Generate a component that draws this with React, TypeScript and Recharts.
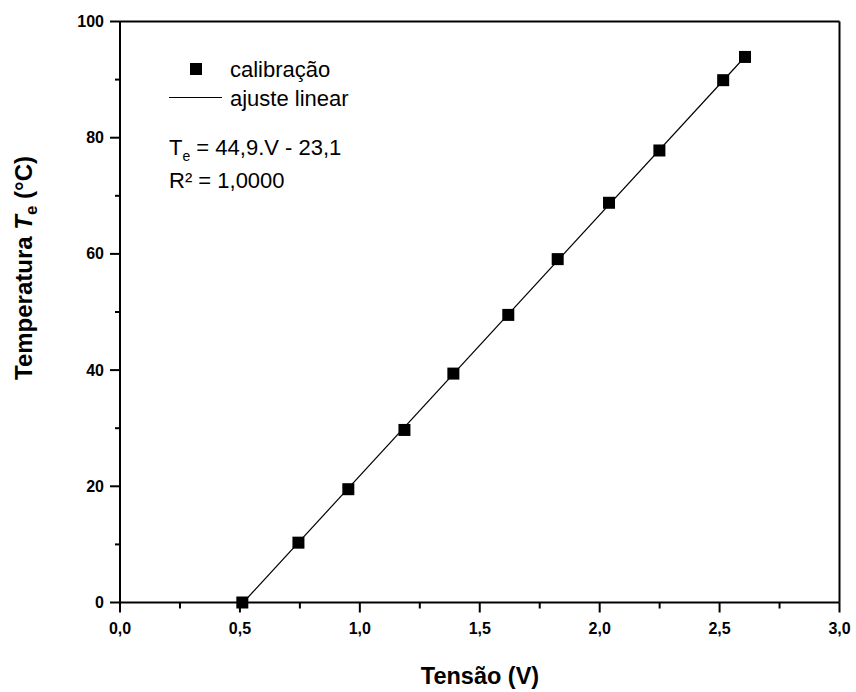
import {
  ScatterChart,
  Scatter,
  XAxis,
  YAxis,
  ReferenceLine,
  Legend,
} from 'recharts'

// calibration points
const voltage = [0.51, 0.744, 0.952, 1.186, 1.39, 1.619, 1.825, 2.039, 2.249, 2.515, 2.606]
const temperature = [0, 10.3, 19.5, 29.7, 39.4, 49.5, 59.1, 68.8, 77.8, 89.9, 93.9]

// end points of the linear fit line
const fitVoltage = [0.514, 2.61]
const fitTemperature = [0, 94.1]

const xTicks = [0, 0.25, 0.5, 0.75, 1, 1.25, 1.5, 1.75, 2, 2.25, 2.5, 2.75, 3]
const yTicks = [0, 10, 20, 30, 40, 50, 60, 70, 80, 90, 100]

const FONT = '"Liberation Sans", Arial, sans-serif'

const calData = voltage.map((v, i) => ({ v, t: temperature[i] }))
const fitData = fitVoltage.map((v, i) => ({ v, t: fitTemperature[i] }))

const XTick = (props: any) => {
  const { x, y, payload } = props
  const val = payload.value as number
  const major = Math.abs(val * 2 - Math.round(val * 2)) < 1e-6
  return (
    <g>
      <line x1={x} x2={x} y1={y} y2={y + (major ? 10 : 6)} stroke="#000" strokeWidth={2} />
      {major && (
        <text x={x} y={y + 31.5} textAnchor="middle" fontFamily={FONT} fontWeight="bold" fontSize={16} fill="#000">
          {val.toFixed(1).replace('.', ',')}
        </text>
      )}
    </g>
  )
}

const YTick = (props: any) => {
  const { x, y, payload } = props
  const val = payload.value as number
  const major = val % 20 === 0
  return (
    <g>
      <line x1={x - (major ? 10 : 5)} x2={x} y1={y} y2={y} stroke="#000" strokeWidth={2} />
      {major && (
        <text x={x - 16} y={y + 5.5} textAnchor="end" fontFamily={FONT} fontWeight="bold" fontSize={16} fill="#000">
          {val}
        </text>
      )}
    </g>
  )
}

const Square = (props: any) => {
  const { cx, cy } = props
  return <rect x={cx - 6} y={cy - 6} width={12} height={12} fill="#000" />
}

const LegendBox = () => (
  <svg width={856} height={200} style={{ display: 'block' }}>
    <rect x={190} y={63} width={12} height={12} fill="#000" />
    <text x={230} y={77} fontFamily={FONT} fontSize={22} fill="#000">calibração</text>
    <line x1={169} x2={222} y1={97.5} y2={97.5} stroke="#000" strokeWidth={1.2} />
    <text x={230} y={106} fontFamily={FONT} fontSize={22} fill="#000">ajuste linear</text>
    <text x={169} y={155} fontFamily={FONT} fontSize={22} fill="#000">
      T<tspan fontSize={14} dy={6}>e</tspan>
      <tspan dy={-6}> = 44,9.V - 23,1</tspan>
    </text>
    <text x={169} y={188} fontFamily={FONT} fontSize={22} fill="#000">R² = 1,0000</text>
  </svg>
)

const XTitle = () => (
  <text x={480} y={684} textAnchor="middle" fontFamily={FONT} fontWeight="bold" fontSize={23.5} fill="#000">
    Tensão (V)
  </text>
)

const YTitle = () => (
  <text
    x={32}
    y={268}
    transform="rotate(-90, 32, 268)"
    textAnchor="middle"
    fontFamily={FONT}
    fontWeight="bold"
    fontSize={24}
    fill="#000"
  >
    Temperatura <tspan fontStyle="italic">T</tspan>
    <tspan fontSize={17} dy={5}>e</tspan>
    <tspan dy={-5}> (°C)</tspan>
  </text>
)

export default function App() {
  return (
    <div style={{ width: 856, height: 692, background: '#fff' }}>
      <style>{'body{margin:0}'}</style>
      <ScatterChart
        width={856}
        height={692}
        margin={{ top: 21.5, right: 16.5, left: 60, bottom: 59.5 }}
      >
        <XAxis
          type="number"
          dataKey="v"
          domain={[0, 3]}
          ticks={xTicks}
          interval={0}
          height={30}
          tickSize={0}
          tickMargin={0}
          tick={<XTick />}
          axisLine={{ stroke: '#000', strokeWidth: 2 }}
          label={<XTitle />}
        />
        <YAxis
          type="number"
          dataKey="t"
          domain={[0, 100]}
          ticks={yTicks}
          interval={0}
          width={60}
          tickSize={0}
          tickMargin={0}
          tick={<YTick />}
          axisLine={{ stroke: '#000', strokeWidth: 2 }}
          label={<YTitle />}
        />
        <ReferenceLine x={3} stroke="#000" strokeWidth={2} />
        <ReferenceLine y={100} stroke="#000" strokeWidth={2} />
        <Scatter
          name="ajuste linear"
          data={fitData}
          line={{ stroke: '#000', strokeWidth: 1.2 }}
          shape={() => <g />}
          isAnimationActive={false}
        />
        <Scatter
          name="calibração"
          data={calData}
          fill="#000"
          shape={<Square />}
          isAnimationActive={false}
        />
        <Legend
          layout="horizontal"
          verticalAlign="middle"
          align="center"
          wrapperStyle={{ position: 'absolute', left: 0, top: 0, width: 856, height: 200 }}
          content={() => <LegendBox />}
        />
      </ScatterChart>
    </div>
  )
}
